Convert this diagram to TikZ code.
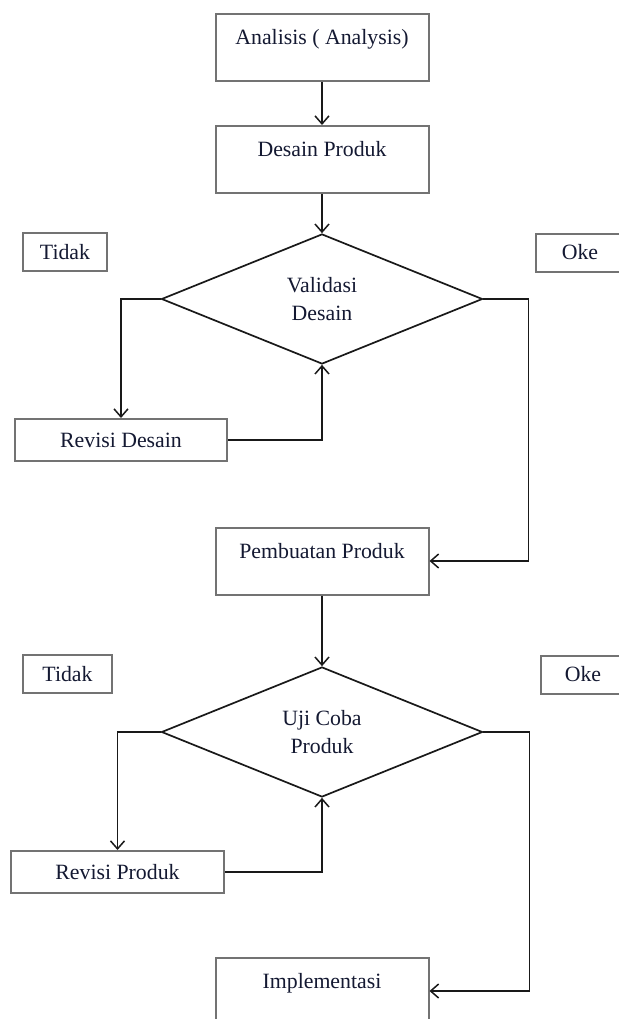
\documentclass[tikz,border=0pt]{standalone}
\usepackage{fontspec}
\setmainfont{Liberation Serif}
\usetikzlibrary{shapes.geometric,arrows.meta}
\definecolor{boxgray}{RGB}{115,115,115}
\definecolor{inkline}{RGB}{25,25,25}
\definecolor{txt}{RGB}{20,25,50}
\begin{document}
\begin{tikzpicture}[x=1pt,y=-1pt,
  font=\fontsize{21.8}{28}\selectfont, text=txt,
  stepbox/.style={draw=boxgray, line width=2pt, rectangle, inner sep=0pt,
    minimum width=213pt, text height=31pt, text depth=36pt},
  flatbox/.style={draw=boxgray, line width=2pt, rectangle, inner sep=0pt,
    minimum width=213pt, minimum height=42pt},
  tagbox/.style={draw=boxgray, line width=2pt, rectangle, inner sep=0pt,
    minimum height=38pt},
  dia/.style={draw=inkline, line width=1.7pt, diamond, inner sep=0pt,
    minimum width=321pt, minimum height=130pt, align=center},
  conn/.style={draw=inkline, line width=1.7pt},
  arr/.style={conn, -{Straight Barb[length=8pt,width=14pt,line width=1.5pt]}}]
\useasboundingbox (0,0) rectangle (618,1019);
\fill[white] (0,0) rectangle (618,1019);

\node[stepbox] (ana) at (322,47.5) {Analisis ( Analysis)};
\node[stepbox] (des) at (322,159.5) {Desain Produk};
\node[dia] (val) at (322,299) {Validasi\\Desain};
\node[tagbox, minimum width=84pt] (t1) at (65,252) {Tidak};
\node[tagbox, minimum width=88pt] (o1) at (580,252.5) {Oke};
\node[flatbox, minimum width=212pt] (rev1) at (121,440) {Revisi Desain};
\node[stepbox] (pem) at (322,561) {Pembuatan Produk};
\node[dia] (uji) at (322,732) {Uji Coba\\Produk};
\node[tagbox, minimum width=89pt] (t2) at (67.5,674) {Tidak};
\node[tagbox, minimum width=84pt] (o2) at (583,674.5) {Oke};
\node[flatbox] (rev2) at (117.5,872) {Revisi Produk};
\node[stepbox] (imp) at (322,991) {Implementasi};

\draw[arr] (ana.south) -- (des.north);
\draw[arr] (des.south) -- (val.north);
\draw[arr] (val.west) -| (rev1.north);
\draw[arr] (rev1.east) -| (val.south);
\draw[arr] (val.east) -- ++(45,0) |- (pem.east);
\draw[arr] (pem.south) -- (uji.north);
\draw[arr] (uji.west) -| (rev2.north);
\draw[arr] (rev2.east) -| (uji.south);
\draw[arr] (uji.east) -- ++(46,0) |- (imp.east);
\end{tikzpicture}
\end{document}
